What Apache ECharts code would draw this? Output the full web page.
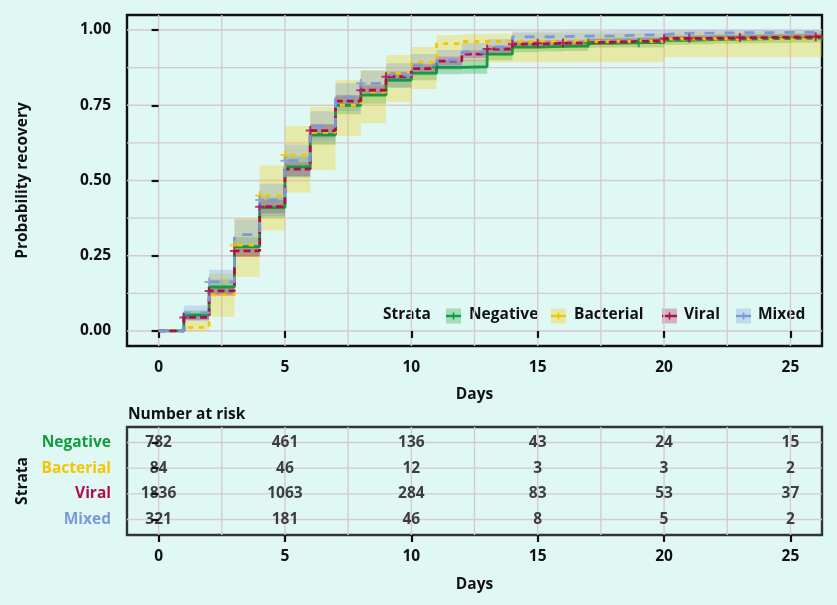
<!DOCTYPE html>
<html><head><meta charset="utf-8">
<script src="https://cdn.jsdelivr.net/npm/echarts@6/dist/echarts.min.js"></script>
<style>html,body{margin:0;padding:0;background:#e0f8f4;} #c{width:837px;height:605px;}</style>
</head><body><div id="c"></div>
<script>
// ---------- data ----------
const groups = ['Negative', 'Bacterial', 'Viral', 'Mixed'];
const times = [0,1,2,3,4,5,6,7,8,9,10,11,12,13,14,15,16,17,18,19,20,21,22,23,24,25,26,26.3];

const negEst = [0,0.053,0.146,0.280,0.410,0.545,0.652,0.750,0.784,0.834,0.857,0.876,0.878,0.920,0.943,0.946,0.947,0.957,0.958,0.958,0.966,0.968,0.970,0.971,0.972,0.973,0.974,0.974];
const negLo  = [0,0.038,0.122,0.249,0.376,0.510,0.619,0.720,0.755,0.808,0.833,0.853,0.855,0.900,0.926,0.929,0.930,0.941,0.942,0.942,0.951,0.953,0.955,0.956,0.957,0.958,0.959,0.959];
const negHi  = [0,0.068,0.171,0.311,0.444,0.580,0.685,0.780,0.813,0.860,0.881,0.899,0.901,0.940,0.960,0.963,0.964,0.973,0.974,0.974,0.981,0.983,0.985,0.986,0.987,0.988,0.989,0.989];

const bacEst = [0,0.012,0.120,0.285,0.450,0.585,0.660,0.750,0.795,0.857,0.893,0.955,0.962,0.962,0.962,0.962,0.962,0.962,0.962,0.962,0.970,0.970,0.970,0.970,0.970,0.970,0.970,0.970];
const bacLo  = [0,0,0.047,0.180,0.335,0.460,0.535,0.648,0.690,0.761,0.804,0.890,0.893,0.893,0.893,0.893,0.893,0.893,0.893,0.893,0.910,0.910,0.910,0.910,0.910,0.910,0.910,0.910];
const bacHi  = [0,0.035,0.190,0.375,0.550,0.680,0.745,0.834,0.867,0.917,0.944,0.983,0.986,0.988,0.990,0.990,0.990,0.990,0.990,0.990,0.995,0.995,0.995,0.995,0.995,0.995,0.995,0.995];

const virEst = [0,0.045,0.133,0.266,0.413,0.538,0.666,0.764,0.800,0.845,0.872,0.897,0.920,0.937,0.953,0.956,0.957,0.960,0.962,0.965,0.972,0.973,0.974,0.975,0.976,0.977,0.978,0.978];
const virLo  = [0,0.035,0.117,0.246,0.391,0.515,0.644,0.744,0.781,0.828,0.856,0.882,0.907,0.925,0.942,0.945,0.946,0.950,0.952,0.955,0.963,0.964,0.965,0.966,0.967,0.968,0.969,0.969];
const virHi  = [0,0.055,0.149,0.286,0.435,0.561,0.688,0.784,0.819,0.862,0.888,0.912,0.933,0.949,0.964,0.967,0.968,0.970,0.972,0.975,0.981,0.982,0.983,0.984,0.985,0.986,0.987,0.987];

const mixEst = [0,0.060,0.163,0.320,0.435,0.566,0.680,0.777,0.823,0.850,0.884,0.900,0.927,0.943,0.977,0.978,0.980,0.980,0.983,0.985,0.990,0.990,0.991,0.991,0.992,0.992,0.992,0.992];
const mixLo  = [0,0.035,0.123,0.270,0.381,0.512,0.630,0.731,0.781,0.810,0.848,0.866,0.897,0.916,0.959,0.960,0.963,0.963,0.968,0.971,0.979,0.979,0.980,0.980,0.981,0.981,0.981,0.981];
const mixHi  = [0,0.085,0.203,0.370,0.489,0.620,0.730,0.823,0.865,0.890,0.920,0.934,0.957,0.970,0.995,0.996,0.997,0.997,0.998,0.999,1,1,1,1,1,1,1,1];

const negCens = [11, 13, 17, 19];
const bacCens = [3, 4, 5];
const virCens = [1, 2, 3, 4, 6, 8, 9, 13, 14, 15, 16, 20, 21, 23, 26];
const mixCens = [2, 4, 5, 8];

const riskTimes = [0, 5, 10, 15, 20, 25];
const negRisk = [782, 461, 136, 43, 24, 15];
const bacRisk = [84, 46, 12, 3, 3, 2];
const virRisk = [1836, 1063, 284, 83, 53, 37];
const mixRisk = [321, 181, 46, 8, 5, 2];

const xTicks = [0, 5, 10, 15, 20, 25];
const yTicks = [0, 0.25, 0.5, 0.75, 1];
const xGrid = [0, 2.5, 5, 7.5, 10, 12.5, 15, 17.5, 20, 22.5, 25];
const yGrid = [0, 0.125, 0.25, 0.375, 0.5, 0.625, 0.75, 0.875, 1];
const riskRows = [1, 2, 3, 4];

// ---------- styles ----------
const FONT = 'Open Sans';
const FS = 15.5;
const colors = ['#129a3c', '#f3c600', '#ad0e4e', '#7b98dc'];
const bandColors = ['rgba(18,154,60,0.3)', 'rgba(243,198,0,0.3)', 'rgba(173,14,78,0.3)', 'rgba(123,152,220,0.3)'];
const dashes = ['solid', [5, 6], [7, 4], [10, 10]];
const gridColor = '#d6cad2';

const est = [negEst, bacEst, virEst, mixEst];
const lo = [negLo, bacLo, virLo, mixLo];
const hi = [negHi, bacHi, virHi, mixHi];
const cens = [negCens, bacCens, virCens, mixCens];
const risk = [negRisk, bacRisk, virRisk, mixRisk];

const chart = echarts.init(document.getElementById('c'), null, {renderer: 'canvas'});

function gridLineSeries(values, vertical, gi) {
  return {
    type: 'custom', xAxisIndex: gi, yAxisIndex: gi, silent: true, z: 0, animation: false,
    data: values.map(v => vertical ? [v, 0] : [0, v]),
    renderItem: function (params, api) {
      const cs = params.coordSys;
      if (vertical) {
        const x = api.coord([api.value(0), 0])[0];
        return {type: 'line', shape: {x1: x, y1: cs.y, x2: x, y2: cs.y + cs.height}, style: {stroke: gridColor, lineWidth: 1.4}};
      }
      const y = api.coord([0, api.value(1)])[1];
      return {type: 'line', shape: {x1: cs.x, y1: y, x2: cs.x + cs.width, y2: y}, style: {stroke: gridColor, lineWidth: 1.4}};
    }
  };
}

function bandSeries(g) {
  return {
    type: 'custom', xAxisIndex: 0, yAxisIndex: 0, silent: true, z: 2, animation: false,
    data: [[0, 0]],
    renderItem: function (params, api) {
      const cs = params.coordSys;
      const xr = cs.x + cs.width;
      const up = [], dn = [];
      for (let i = 0; i < times.length - 1; i++) {
        const a = api.coord([times[i], hi[g][i]]);
        const b = api.coord([times[i + 1], hi[g][i]]);
        const c = api.coord([times[i], lo[g][i]]);
        const d = api.coord([times[i + 1], lo[g][i]]);
        up.push([Math.min(a[0], xr), a[1]], [Math.min(b[0], xr), b[1]]);
        dn.push([Math.min(c[0], xr), c[1]], [Math.min(d[0], xr), d[1]]);
      }
      const pts = up.concat(dn.reverse());
      return {type: 'polygon', shape: {points: pts}, style: {fill: bandColors[g]}};
    }
  };
}

const PLUS = 'path://M-1.1,-5H1.1V-1.1H5V1.1H1.1V5H-1.1V1.1H-5V-1.1H-1.1Z';

const series = [];
series.push(gridLineSeries(xGrid, true, 0));
series.push(gridLineSeries(yGrid, false, 0));
series.push(gridLineSeries(xGrid, true, 1));
series.push(gridLineSeries(riskRows, false, 1));
for (let g = 0; g < 4; g++) series.push(bandSeries(g));
for (let g = 0; g < 4; g++) {
  series.push({
    type: 'line', name: groups[g], step: 'end', xAxisIndex: 0, yAxisIndex: 0, z: 4,
    showSymbol: false, symbol: 'none', animation: false, silent: true,
    data: times.map((t, i) => [t, est[g][i]]),
    lineStyle: {color: colors[g], width: 2.8, type: dashes[g]}
  });
}
for (let g = 0; g < 4; g++) {
  series.push({
    type: 'scatter', xAxisIndex: 0, yAxisIndex: 0, z: 5, silent: true, animation: false,
    symbol: PLUS, symbolSize: 9,
    data: cens[g].map(d => [d, est[g][times.indexOf(d)]]),
    itemStyle: {color: colors[g]}
  });
}
for (let g = 0; g < 4; g++) {
  series.push({
    type: 'scatter', xAxisIndex: 1, yAxisIndex: 1, z: 5, silent: true, animation: false,
    symbolSize: 1, itemStyle: {color: 'transparent'},
    data: riskTimes.map((t, i) => [t, g + 1, risk[g][i]]),
    label: {show: true, position: 'inside', formatter: p => String(p.value[2]),
      color: '#111', fontFamily: FONT, fontWeight: 'bold', fontSize: FS}
  });
}

const axisText = {color: '#111', fontFamily: FONT, fontWeight: 'bold', fontSize: FS};
const tickStyle = {show: true, length: 7, lineStyle: {color: '#111', width: 2.2}};
const rich = {};
groups.forEach((n, i) => { rich['g' + i] = {color: colors[i], fontFamily: FONT, fontWeight: 'bold', fontSize: FS}; });

const legendGraphics = [];
const LF = 'bold ' + FS + 'px "Open Sans"';
legendGraphics.push({type: 'text', left: 383, top: 307, style: {text: 'Strata', fill: '#111', font: LF}});
const keyX = [446, 551, 662, 736];
const textX = [469, 574, 684, 758];
for (let g = 0; g < 4; g++) {
  legendGraphics.push({type: 'rect', shape: {x: keyX[g], y: 308.5, width: 15, height: 15}, style: {fill: bandColors[g]}});
  legendGraphics.push({type: 'line', shape: {x1: keyX[g], y1: 316, x2: keyX[g] + 15, y2: 316}, style: {stroke: colors[g], lineWidth: 2.4}});
  legendGraphics.push({type: 'line', shape: {x1: keyX[g] + 7.5, y1: 312.5, x2: keyX[g] + 7.5, y2: 319.5}, style: {stroke: colors[g], lineWidth: 1.6}});
  legendGraphics.push({type: 'text', left: textX[g], top: 307, style: {text: groups[g], fill: '#111', font: LF}});
}

chart.setOption({
  backgroundColor: '#e0f8f4',
  animation: false,
  textStyle: {fontFamily: FONT},
  title: {text: 'Number at risk', left: 123, top: 402, textStyle: {color: '#111', fontFamily: FONT, fontWeight: 'bold', fontSize: FS}},
  grid: [
    {left: 127, top: 15, width: 695, height: 331, show: true, backgroundColor: 'transparent', borderColor: '#111', borderWidth: 2.4, containLabel: false},
    {left: 127, top: 427, width: 695, height: 108, show: true, backgroundColor: 'transparent', borderColor: '#333', borderWidth: 2.4, containLabel: false}
  ],
  xAxis: [
    {gridIndex: 0, type: 'value', min: -1.25, max: 26.25,
      axisLine: {show: false}, splitLine: {show: false},
      axisTick: Object.assign({customValues: xTicks}, tickStyle),
      axisLabel: Object.assign({customValues: xTicks, margin: 14}, axisText),
      name: 'Days', nameLocation: 'middle', nameGap: 41, nameTextStyle: axisText},
    {gridIndex: 1, type: 'value', min: -1.25, max: 26.25,
      axisLine: {show: false}, splitLine: {show: false},
      axisTick: Object.assign({customValues: xTicks}, tickStyle),
      axisLabel: Object.assign({customValues: xTicks, margin: 14}, axisText),
      name: 'Days', nameLocation: 'middle', nameGap: 42, nameTextStyle: axisText}
  ],
  yAxis: [
    {gridIndex: 0, type: 'value', min: -0.05, max: 1.05,
      axisLine: {show: false}, splitLine: {show: false},
      axisTick: Object.assign({customValues: yTicks}, tickStyle),
      axisLabel: Object.assign({customValues: yTicks, margin: 16, formatter: v => v.toFixed(2)}, axisText),
      name: 'Probability recovery', nameLocation: 'middle', nameGap: 96, nameTextStyle: axisText},
    {gridIndex: 1, type: 'value', min: 0.4, max: 4.6, inverse: true,
      axisLine: {show: false}, splitLine: {show: false},
      axisTick: Object.assign({customValues: riskRows}, tickStyle),
      axisLabel: {customValues: riskRows, margin: 16, rich: rich, formatter: v => '{g' + (v - 1) + '|' + groups[v - 1] + '}'},
      name: 'Strata', nameLocation: 'middle', nameGap: 92, nameTextStyle: axisText}
  ],
  graphic: legendGraphics,
  series: series
});
</script></body></html>
